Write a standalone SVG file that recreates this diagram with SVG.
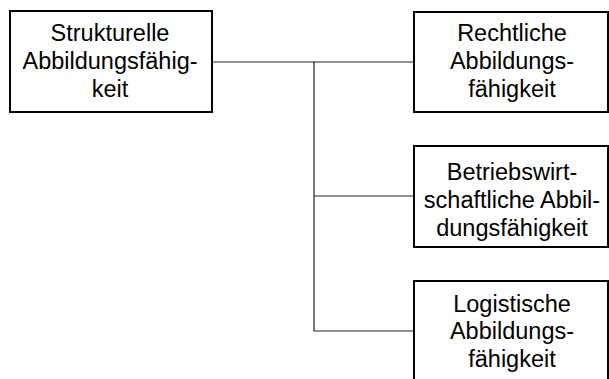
<svg xmlns="http://www.w3.org/2000/svg" width="609" height="379" viewBox="0 0 609 379">
<style>
.box{fill:#fff;stroke:#000;stroke-width:2}
.t{font-family:"Liberation Sans",Arial,sans-serif;font-size:23.5px;fill:#000;text-anchor:middle}
.c{fill:none;stroke:#222;stroke-width:1.2}
</style>
<rect width="609" height="379" fill="#fff"/>
<g id="connectors">
<polyline class="c" points="212,62 314,62 314,331 414,331"/>
<line class="c" x1="314" y1="62" x2="414" y2="62"/>
<line class="c" x1="314" y1="196" x2="414" y2="196"/>
</g>
<g id="n1">
<rect class="box" x="10" y="11" width="202" height="101"/>
<text class="t" x="110" y="41">Strukturelle</text>
<text class="t" x="110" y="69">Abbildungsfähig-</text>
<text class="t" x="110" y="97">keit</text>
</g>
<g id="n2">
<rect class="box" x="414" y="12" width="194" height="100"/>
<text class="t" x="512" y="41">Rechtliche</text>
<text class="t" x="512" y="69">Abbildungs-</text>
<text class="t" x="512" y="97">fähigkeit</text>
</g>
<g id="n3">
<rect class="box" x="414" y="146" width="194" height="101"/>
<text class="t" x="512" y="180">Betriebswirt-</text>
<text class="t" x="512" y="208">schaftliche Abbil-</text>
<text class="t" x="512" y="236">dungsfähigkeit</text>
</g>
<g id="n4">
<rect class="box" x="414" y="281" width="194" height="102"/>
<text class="t" x="512" y="312">Logistische</text>
<text class="t" x="512" y="339">Abbildungs-</text>
<text class="t" x="512" y="367">fähigkeit</text>
</g>
</svg>
